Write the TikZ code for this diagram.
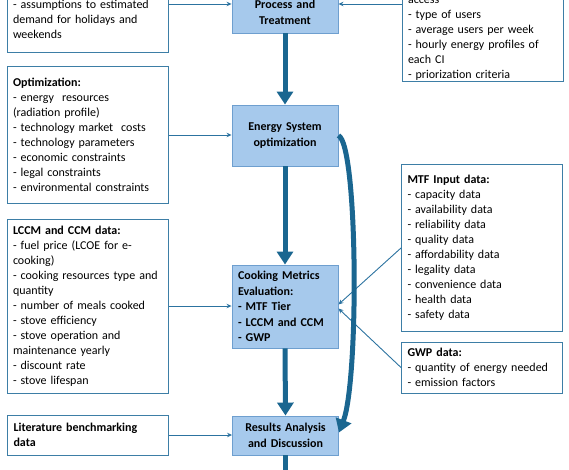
\documentclass[tikz,border=0pt]{standalone}
\usepackage{fontspec}
\setmainfont{Carlito}
\usetikzlibrary{arrows.meta}
\definecolor{bfill}{HTML}{A6C9EC}
\definecolor{bbord}{HTML}{6E9FCF}
\definecolor{wbord}{HTML}{3D7EA6}
\definecolor{thinc}{HTML}{2C73A0}
\definecolor{thickc}{HTML}{1A6690}
\begin{document}
\begin{tikzpicture}[x=1pt,y=-1pt,
  whitebox/.style={draw=wbord, line width=1pt, fill=white, align=left, text width=149pt,
    inner xsep=6pt, inner ysep=0pt, minimum width=161pt, font=\fontsize{12}{15}\selectfont},
  bluebox/.style={draw=bbord, line width=0.9pt, fill=bfill, align=center, text width=94pt,
    inner xsep=6pt, inner ysep=0pt, minimum width=106pt, font=\bfseries\fontsize{12}{15.5}\selectfont},
  thinarrow/.style={draw=thinc, line width=0.9pt, -{Stealth[length=5pt,width=4.5pt]}},
  thickarrow/.style={draw=thickc, line width=5pt, -{Triangle[length=13pt,width=16pt]}}
]
\useasboundingbox (0,0) rectangle (569,470);
\clip (0,0) rectangle (569,470);

% left column
\node[whitebox, minimum height=68pt] (tl) at (87.5,19)
  {- assumptions to estimated\\demand for holidays and\\weekends};
\node[whitebox, minimum height=136pt] (opt) at (87.5,135)
  {\textbf{Optimization:}\\- energy\ \ resources\\(radiation profile)\\- technology market\ \ costs\\- technology parameters\\- economic constraints\\- legal constraints\\- environmental\ constraints};
\node[whitebox, minimum height=174pt] (lccm) at (87.5,306)
  {\textbf{LCCM and CCM data:}\\- fuel price (LCOE for e-\\cooking)\\- cooking resources\ type and\\quantity\\- number of meals cooked\\- stove efficiency\\- stove operation and\\maintenance yearly\\- discount rate\\- stove lifespan};
\node[whitebox, minimum height=40pt] (lit) at (88,435)
  {\textbf{Literature benchmarking}\\\textbf{data}};

% right column
\node[whitebox, minimum height=86pt] (tr) at (482.5,39)
  {access\\- type of users\\- average\ users per week\\- hourly energy profiles of\\each CI\\- priorization criteria};
\node[whitebox, minimum height=166pt] (mtf) at (482,248)
  {\textbf{MTF Input data:}\\- capacity data\\- availability data\\- reliability data\\- quality data\\- affordability\ data\\- legality data\\- convenience\ data\\- health data\\- safety data};
\node[whitebox, minimum height=51pt] (gwp) at (482,367.5)
  {\textbf{GWP data:}\\- quantity of energy needed\\- emission factors};

% centre column
\node[bluebox, minimum height=41pt] (ptc) at (285,12.5) {Process and\\Treatment};
\node[bluebox, minimum height=61pt] (esys) at (285,135.5) {Energy System\\optimization};
\node[bluebox, minimum height=83pt, align=left] (cme) at (285,306.5)
  {Cooking Metrics\\Evaluation:\\- MTF Tier\\- LCCM and CCM\\- GWP};
\node[bluebox, minimum height=39pt] (res) at (285.5,435.5) {Results Analysis\\and Discussion};
\coordinate (bottom) at (285.5,490);

% thin connectors
\draw[thinarrow] (tl.east |- 0,4) -- (ptc.west |- 0,4);
\draw[thinarrow] (tr.west |- 0,4) -- (ptc.east |- 0,4);
\draw[thinarrow] (opt.east) -- (opt.east -| esys.west);
\draw[thinarrow] (lccm.east) -- (lccm.east -| cme.west);
\draw[thinarrow] (lit.east) -- (lit.east -| res.west);
\draw[thinarrow] (mtf.west) -- ([yshift=2pt]cme.east);
\draw[thinarrow] (gwp.west) -- ([yshift=-2pt]cme.east);

% thick connectors
\draw[thickarrow] (ptc.south) -- (esys.north);
\draw[thickarrow] (esys.south) -- (cme.north);
\draw[thickarrow] (cme.south) -- (res.north);
\draw[thickarrow] (res.south) -- (bottom);
\draw[thickarrow] (esys.east) .. controls (358,145) and (359,380) .. ([yshift=3pt]res.east);
\end{tikzpicture}
\end{document}
